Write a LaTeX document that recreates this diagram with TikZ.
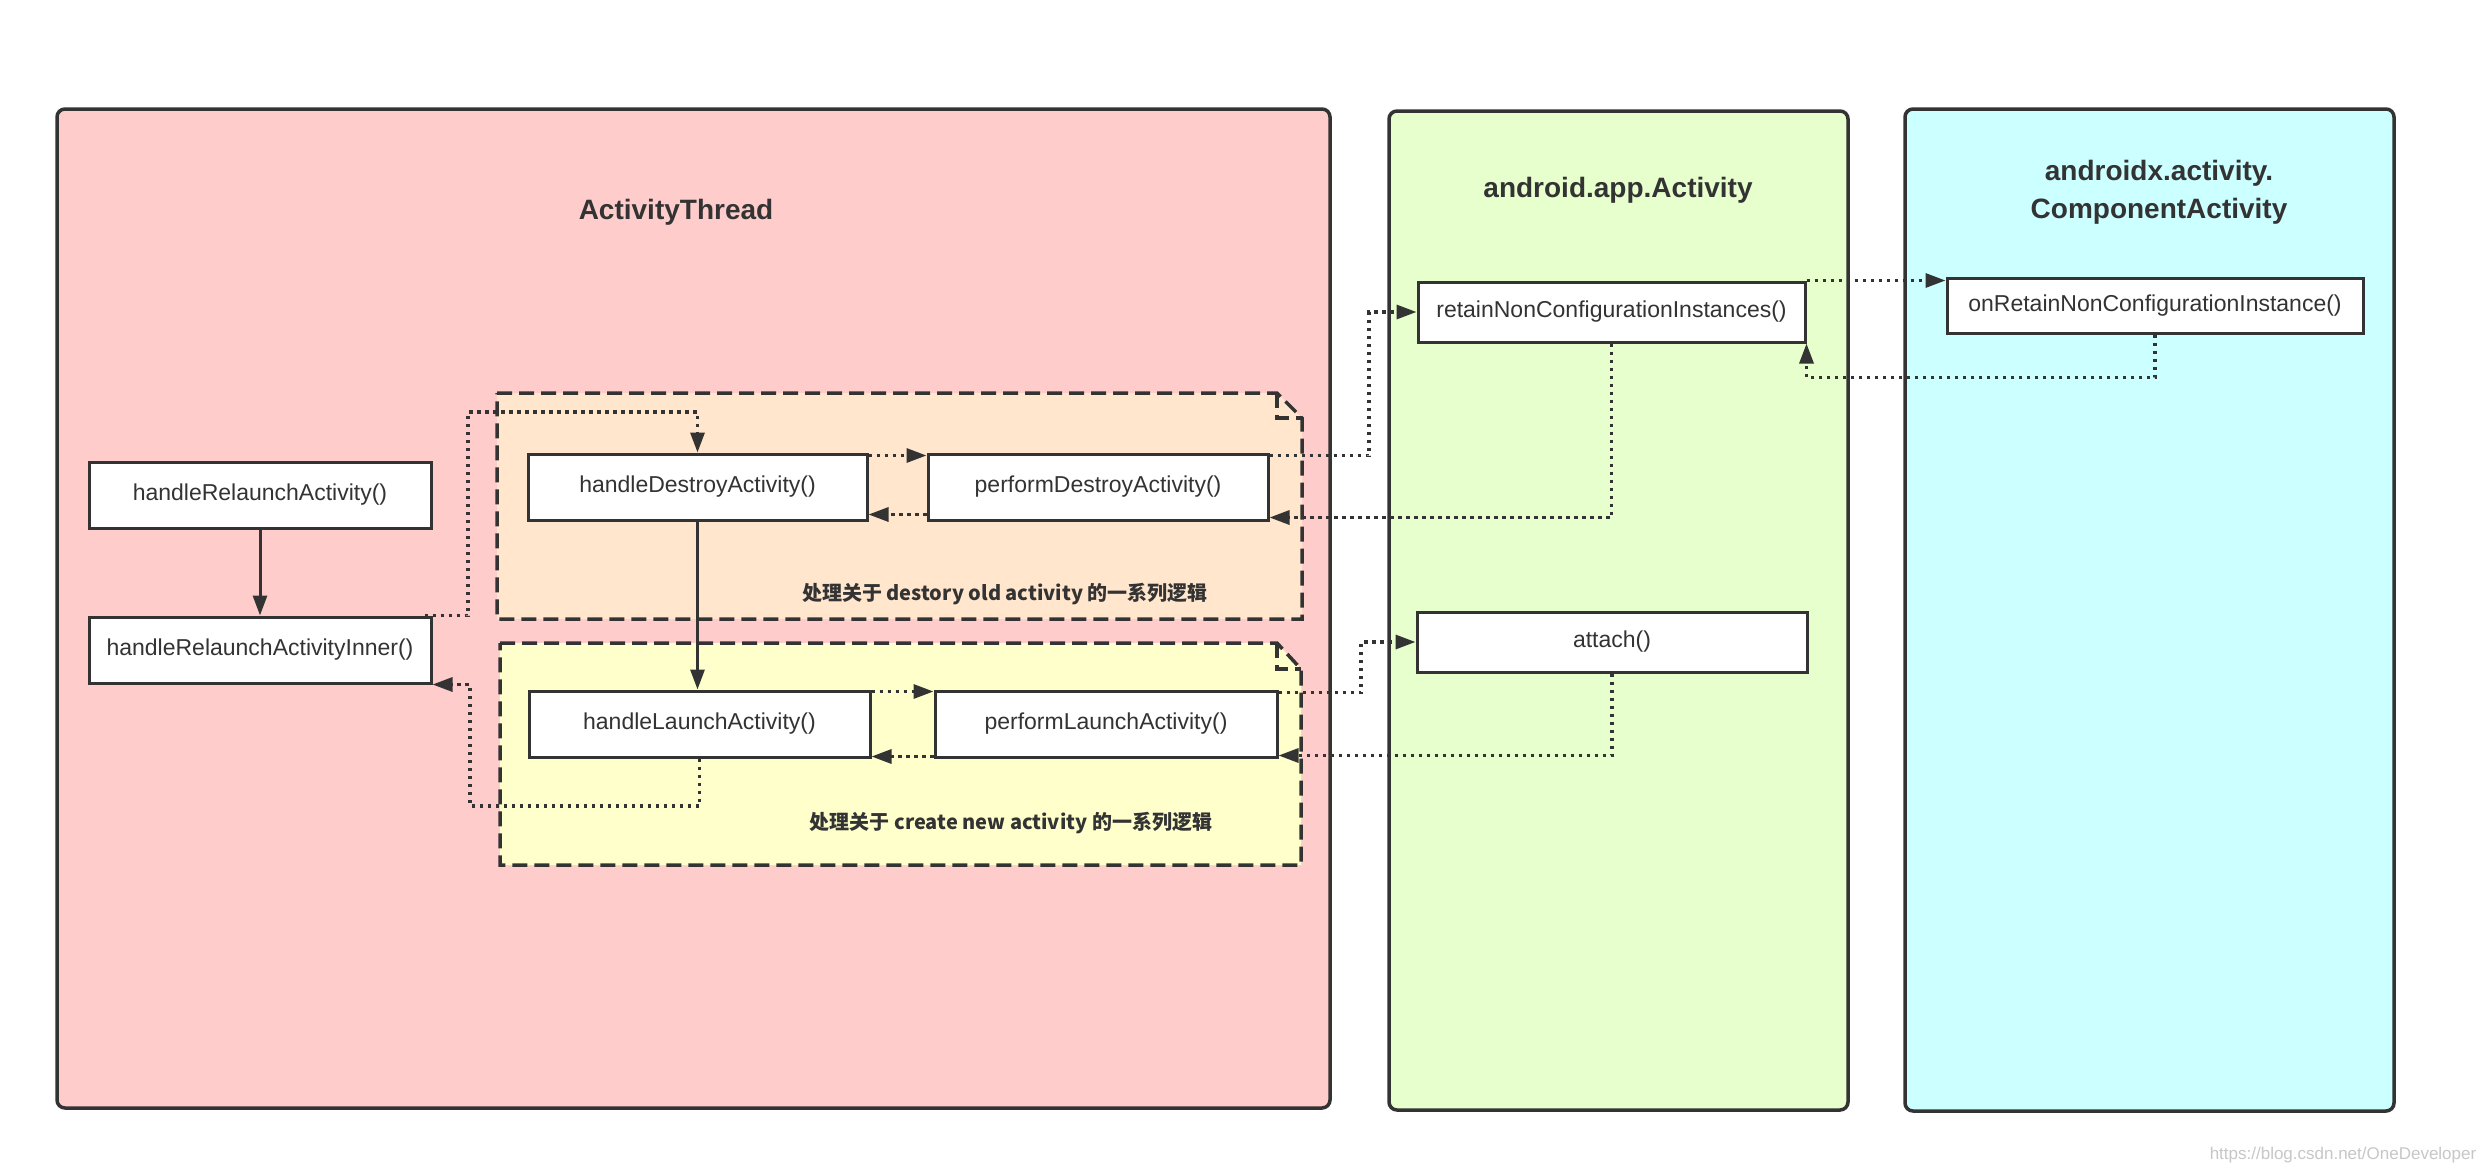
\documentclass[tikz,border=0pt]{standalone}
\usepackage{fontspec}
\setmainfont{Liberation Sans}
\newfontfamily\cjk{Noto Sans CJK SC}
\usetikzlibrary{arrows.meta,calc}
\definecolor{ink}{HTML}{333333}
\definecolor{lanepink}{HTML}{FFCCCC}
\definecolor{lanegreen}{HTML}{E6FFCC}
\definecolor{lanecyan}{HTML}{CCFFFF}
\definecolor{grouporange}{HTML}{FFE6CC}
\definecolor{groupyellow}{HTML}{FFFFCC}
\begin{document}
\begin{tikzpicture}[x=1pt,y=-1pt,
  lane/.style={draw=ink,line width=3.5pt,rounded corners=8pt},
  func/.style={draw=ink,fill=white,line width=3pt,inner sep=0pt,
    font=\fontsize{23}{28}\selectfont,text=ink},
  title/.style={font=\fontsize{28}{38}\selectfont\bfseries,text=ink,align=center},
  grouplbl/.style={font=\cjk\bfseries\fontsize{20}{24}\selectfont,text=ink},
  group/.style={draw=ink,line width=3.5pt,dash pattern=on 15pt off 7pt},
  dotline/.style={draw=ink,line width=3.2pt,dash pattern=on 3.5pt off 4.5pt,
    -{Triangle[length=20pt,width=14pt]}},
  solidline/.style={draw=ink,line width=3pt,-{Triangle[length=20pt,width=14pt]}}
]
\fill[white] (0,0) rectangle (2482,1172);
\useasboundingbox (0,0) rectangle (2482,1172);

% swimlanes
\path[lane,fill=lanepink]  (57,109)  rectangle (1330,1108);
\path[lane,fill=lanegreen] (1389,111) rectangle (1848,1110);
\path[lane,fill=lanecyan]  (1905,109) rectangle (2394,1111);

\node[title] (t1) at (676,212) {ActivityThread};
\node[title] (t2) at (1618,190) {android.app.Activity};
\node[title] (t3) at (2159,192) {androidx.activity.\\ComponentActivity};

% note-shaped groups with folded corner
\path[group,fill=grouporange] (497,393) -- (1277,393) -- (1302,418) -- (1302,619) -- (497,619) -- cycle;
\draw[group] (1277,393) -- (1277,418) -- (1302,418);
\path[group,fill=groupyellow] (500,643) -- (1277,643) -- (1301,669) -- (1301,865) -- (500,865) -- cycle;
\draw[group] (1277,643) -- (1277,669) -- (1301,669);

\node[grouplbl] (g1) at (1005,594) {处理关于 destory old activity 的一系列逻辑};
\node[grouplbl] (g2) at (1011,823) {处理关于 create new activity 的一系列逻辑};

% functions
\node[func,minimum width=342,minimum height=66] (hr) at (260,495) {handleRelaunchActivity()};
\node[func,minimum width=342,minimum height=66] (inner) at (260,650) {handleRelaunchActivityInner()};
\node[func,minimum width=339,minimum height=66] (hd) at (697.5,487) {handleDestroyActivity()};
\node[func,minimum width=340,minimum height=66] (pd) at (1098,487) {performDestroyActivity()};
\node[func,minimum width=341,minimum height=66] (hl) at (699.5,724) {handleLaunchActivity()};
\node[func,minimum width=342,minimum height=66] (pl) at (1106,724) {performLaunchActivity()};
\node[func,minimum width=387,minimum height=60] (rt) at (1611.5,312) {retainNonConfigurationInstances()};
\node[func,minimum width=416,minimum height=55] (or) at (2155,305.5) {onRetainNonConfigurationInstance()};
\node[func,minimum width=390,minimum height=60] (at) at (1612,642) {attach()};

% bend points
\coordinate (k1) at (468,412);
\coordinate (k2) at (470,806);
\coordinate (k3) at (1369,312);
\coordinate (k4) at (1361,642);

% connectors
\draw[solidline] (hr.south) -- (inner.north);
\draw[solidline] (hd.south) -- (hd.south |- hl.north);

\draw[dotline] ([xshift=-8]inner.north east) -| (k1) -| (hd.north);
\draw[dotline] (hl.south) |- (k2) |- (inner.south east);

\draw[dotline] ([yshift=-3]hd.north east) -- ([yshift=-3]hd.north east -| pd.west);
\draw[dotline] ([yshift=7]pd.south west) -- ([yshift=7]pd.south west -| hd.east);
\draw[dotline] ([yshift=-2]hl.north east) -- ([yshift=-2]hl.north east -| pl.west);
\draw[dotline] ([yshift=2]pl.south west) -- ([yshift=2]pl.south west -| hl.east);

\draw[dotline] ([yshift=-3]pd.north east) -| (k3) -- (rt.west);
\draw[dotline] (rt.south) |- ([yshift=4]pd.south east);
\draw[dotline] (rt.north east) -- (rt.north east -| or.west);
\draw[dotline] (or.south) |- ([yshift=-34]rt.south east) -- (rt.south east);

\draw[dotline] ([yshift=-3]pl.north east) -| (k4) -- (at.west);
\draw[dotline] (at.south) |- ([yshift=3]pl.south east);

\node[font=\fontsize{17}{20}\selectfont,text=black!22] (wm) at (2343,1155) {https://blog.csdn.net/OneDeveloper};
\end{tikzpicture}
\end{document}
